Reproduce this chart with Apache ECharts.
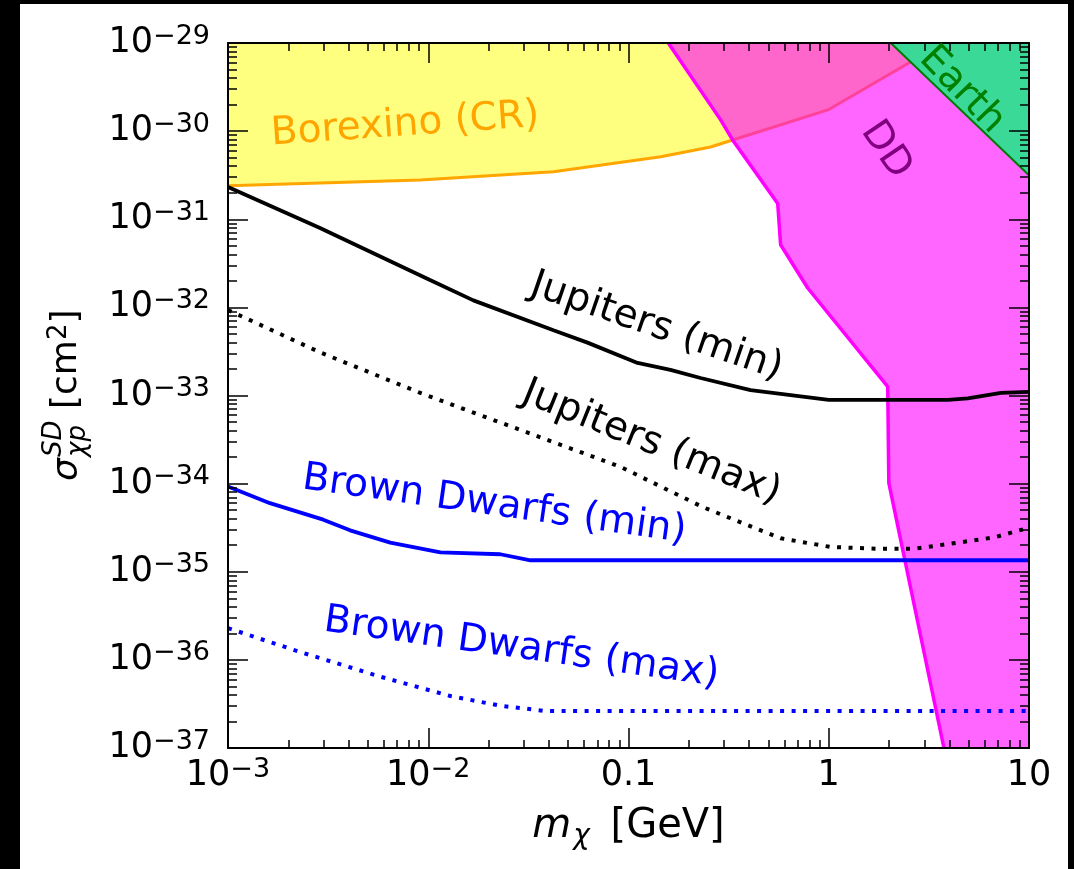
<!DOCTYPE html>
<html><head><meta charset="utf-8">
<script src="https://cdn.jsdelivr.net/npm/echarts@6/dist/echarts.min.js"></script>
<style>
html,body{margin:0;padding:0;background:#000;width:1074px;height:869px;overflow:hidden}
#c{position:absolute;left:20px;top:4px;width:1048px;height:865px;background:#fff}
</style></head><body><div id="c"></div>
<script>
// ---------------- data ----------------
const xTickValues = [0.001, 0.01, 0.1, 1, 10];
const xTickLabels = ['10^−3', '10^−2', '0.1', '1', '10'];
const yTickValues = [1e-37, 1e-36, 1e-35, 1e-34, 1e-33, 1e-32, 1e-31, 1e-30, 1e-29];
const yTickLabels = ['10^−37', '10^−36', '10^−35', '10^−34', '10^−33', '10^−32', '10^−31', '10^−30', '10^−29'];

// Borexino (CR) lower edge of excluded region  [m (GeV), sigma (cm^2)]
const borexino = [[0.001, 2.40e-31], [9.12e-3, 2.79e-31], [4.22e-2, 3.46e-31], [0.145, 5.13e-31],
  [0.257, 6.61e-31], [0.331, 7.94e-31], [0.99, 1.74e-30], [2.51, 5.93e-30], [3.72, 1e-29]];
// Direct detection (DD) boundary
const ddEdge = [[0.158, 1e-29], [0.288, 1.35e-30], [0.331, 7.94e-31], [0.556, 1.51e-31], [0.575, 5.13e-32],
  [0.785, 1.66e-32], [1.97, 1.26e-33], [1.995, 1.02e-34], [3.76, 1e-37]];
const ddCorner = [[10, 1e-37]];
// Earth boundary
const earth = [[2.04, 1e-29], [10, 3.16e-31]];
// Jupiters
const jupMin = [[0.001, 2.32e-31], [2.88e-3, 7.94e-32], [1.02e-2, 2.04e-32], [1.68e-2, 1.20e-32], [4.22e-2, 5.50e-33],
  [6.24e-2, 3.98e-33], [0.111, 2.34e-33], [0.162, 1.95e-33], [0.229, 1.58e-33], [0.407, 1.15e-33],
  [1.0, 8.9e-34], [3.94, 8.9e-34], [4.95, 9.3e-34], [7.24, 1.07e-33], [10, 1.10e-33]];
const jupMax = [[0.001, 9.33e-33], [2.88e-3, 3.09e-33], [9.12e-3, 1.07e-33], [2.88e-2, 4.07e-34], [9.12e-2, 1.55e-34],
  [0.237, 5.37e-35], [0.575, 2.40e-35], [1.02, 1.91e-35], [1.82, 1.82e-35], [2.66, 1.82e-35],
  [4.42, 2.14e-35], [6.68, 2.45e-35], [10, 3.16e-35]];
// Brown dwarfs
const bdMin = [[0.001, 9.3e-35], [1.62e-3, 6.0e-35], [2.99e-3, 3.9e-35], [4.07e-3, 2.95e-35], [6.46e-3, 2.14e-35],
  [1.15e-2, 1.66e-35], [2.29e-2, 1.58e-35], [3.24e-2, 1.35e-35], [10, 1.35e-35]];
const bdMax = [[0.001, 2.29e-36], [2.29e-3, 1.23e-36], [5.75e-3, 6.46e-37], [1.29e-2, 3.89e-37], [2.29e-2, 3.02e-37],
  [3.85e-2, 2.63e-37], [10, 2.63e-37]];

// text annotations anchored in data space
const annotations = [
  {text: 'Borexino (CR)', at: [7.67e-3, 1.17e-30], angle: 4, color: '#ffa500'},
  {text: 'DD', at: [1.93, 6.11e-31], angle: -56, color: '#800080'},
  {text: 'Earth', at: [4.62, 2.93e-30], angle: -46, color: '#008000'},
  {text: 'Jupiters (min)', at: [0.138, 5.98e-33], angle: -19, color: '#000000'},
  {text: 'Jupiters (max)', at: [0.130, 2.89e-34], angle: -22, color: '#000000'},
  {text: 'Brown Dwarfs (min)', at: [2.14e-2, 5.71e-35], angle: -8, color: '#0000ff'},
  {text: 'Brown Dwarfs (max)', at: [2.92e-2, 1.36e-36], angle: -8, color: '#0000ff'}
];

// ---------------- chart ----------------
const FONT = 'DejaVu Sans';
const X_MIN = xTickValues[0], X_MAX = xTickValues[xTickValues.length - 1];
const Y_MIN = yTickValues[0], Y_MAX = yTickValues[yTickValues.length - 1];
const lg = v => Math.round(Math.log10(v) * 1e6) / 1e6;   // exponent (decade) of a value

function minorExps(lo, hi) {
  const out = [];
  for (let e = Math.round(Math.log10(lo)); e < Math.round(Math.log10(hi)); e++)
    for (let k = 2; k <= 9; k++) out.push(Math.round((e + Math.log10(k)) * 1e6) / 1e6);
  return out;
}
function fmt(vals, labels) {
  return function (v) {
    let best = 0, bd = Infinity;
    vals.forEach((t, i) => { const d = Math.abs(lg(t) - v); if (d < bd) { bd = d; best = i; } });
    const p = labels[best].split('^');
    return p.length > 1 ? '{b|' + p[0] + '}{s|' + p[1] + '}' : '{b|' + p[0] + '}';
  };
}
const RICH = {
  b: {fontFamily: FONT, fontSize: 35, color: '#000', lineHeight: 40},
  s: {fontFamily: FONT, fontSize: 27, color: '#000', lineHeight: 20, verticalAlign: 'top'}
};
const TICK = {color: '#000', width: 1.5};
const LINE = {show: true, onZero: false, lineStyle: {color: '#000', width: 2}};
const HIDDEN = {axisLine: {show: false, onZero: false}, axisTick: {show: false}, axisLabel: {show: false},
  splitLine: {show: false}, minorTick: {show: false}, minorSplitLine: {show: false}, axisPointer: {show: false}};

// data axes (log scale) carrying the series
function logAxis(pos, mn, mx) {
  return Object.assign({type: 'log', logBase: 10, gridIndex: 0, position: pos, min: mn, max: mx, silent: true}, HIDDEN);
}
// decoration axes showing ticks/labels on the same decades
function tickAxis(pos, mn, mx, vals, len, line, label, extra) {
  return Object.assign({}, HIDDEN, {
    type: 'value', gridIndex: 0, position: pos, min: lg(mn), max: lg(mx), interval: 1, z: 10, silent: true,
    axisLine: line ? LINE : {show: false, onZero: false},
    axisTick: {show: true, inside: true, length: len, lineStyle: TICK, customValues: vals},
    axisLabel: label || {show: false}
  }, extra || {});
}
const xMajor = xTickValues.map(lg), yMajor = yTickValues.map(lg);
const xMinor = minorExps(X_MIN, X_MAX), yMinor = minorExps(Y_MIN, Y_MAX);

const xAxes = [
  logAxis('bottom', X_MIN, X_MAX),
  tickAxis('bottom', X_MIN, X_MAX, xMajor, 20, true,
    {show: true, margin: 8, customValues: xMajor, formatter: fmt(xTickValues, xTickLabels), rich: RICH},
    {name: '{m|m}{c|χ}{n| [GeV]}', nameLocation: 'middle', nameGap: 55,
     nameTextStyle: {rich: {
       m: {fontFamily: FONT, fontStyle: 'italic', fontSize: 40, color: '#000', lineHeight: 48},
       c: {fontFamily: FONT, fontStyle: 'italic', fontSize: 28, color: '#000', lineHeight: 28, verticalAlign: 'bottom', padding: [0, 8, 0, 2]},
       n: {fontFamily: FONT, fontSize: 40, color: '#000', lineHeight: 48}
     }}}),
  tickAxis('bottom', X_MIN, X_MAX, xMinor, 8, false),
  tickAxis('top', X_MIN, X_MAX, xMajor, 20, true),
  tickAxis('top', X_MIN, X_MAX, xMinor, 8, false)
];
const yAxes = [
  logAxis('left', Y_MIN, Y_MAX),
  tickAxis('left', Y_MIN, Y_MAX, yMajor, 20, true,
    {show: true, margin: 18, customValues: yMajor, formatter: fmt(yTickValues, yTickLabels), rich: RICH}),
  tickAxis('left', Y_MIN, Y_MAX, yMinor, 9, false),
  tickAxis('right', Y_MIN, Y_MAX, yMajor, 20, true),
  tickAxis('right', Y_MIN, Y_MAX, yMinor, 9, false)
];

function ser(name, data, z, extra) {
  return Object.assign({
    name: name, type: 'line', data: data, xAxisIndex: 0, yAxisIndex: 0, z: z,
    showSymbol: false, symbol: 'none', silent: true, animation: false, clip: true, smooth: false
  }, extra);
}

const series = [
  ser('Borexino (CR)', borexino, 1, {lineStyle: {color: '#ffa500', width: 3},
    areaStyle: {color: 'rgba(255,255,0,0.5)', origin: Y_MAX, opacity: 1}}),
  ser('DD fill', ddEdge.concat(ddCorner), 2, {lineStyle: {width: 0, opacity: 0},
    areaStyle: {color: 'rgba(255,0,255,0.6)', origin: Y_MAX, opacity: 1}}),
  ser('DD', ddEdge, 3, {lineStyle: {color: '#ff00ff', width: 3.5}}),
  ser('Earth', earth, 4, {lineStyle: {color: '#007a00', width: 2},
    areaStyle: {color: '#3ad998', origin: Y_MAX, opacity: 1}}),
  ser('Jupiters (max)', jupMax, 5, {lineStyle: {color: '#000', width: 4, type: [4, 7.5], cap: 'butt'}}),
  ser('Jupiters (min)', jupMin, 5, {lineStyle: {color: '#000', width: 3.8}}),
  ser('Brown Dwarfs (min)', bdMin, 5, {lineStyle: {color: '#0000ff', width: 3.8}}),
  ser('Brown Dwarfs (max)', bdMax, 5, {lineStyle: {color: '#0000ff', width: 4, type: [4, 7.5], cap: 'butt'}})
];

const chart = echarts.init(document.getElementById('c'), null, {renderer: 'canvas'});
chart.setOption({
  backgroundColor: '#ffffff',
  animation: false,
  grid: {left: 208, top: 39, right: 39, bottom: 121, containLabel: false},
  xAxis: xAxes,
  yAxis: yAxes,
  series: series
});

// annotations + y axis title
const graphics = annotations.map(function (a) {
  const p = chart.convertToPixel({xAxisIndex: 0, yAxisIndex: 0}, a.at);
  return {type: 'text', x: p[0], y: p[1], rotation: a.angle * Math.PI / 180, z: 20, silent: true,
    style: {text: a.text, fill: a.color, font: '39px "' + FONT + '"', align: 'center', verticalAlign: 'middle'}};
});
const F = 36, S = 26;
graphics.push({
  type: 'group', x: 58, y: 477, rotation: Math.PI / 2, silent: true, z: 20,
  children: [
    {type: 'text', x: 0, y: -0.3 * F, style: {text: 'σ', fill: '#000', font: 'italic ' + F + 'px "' + FONT + '"', align: 'left', verticalAlign: 'middle'}},
    {type: 'text', x: 24, y: -16 - 0.3 * S, style: {text: 'SD', fill: '#000', font: 'italic ' + S + 'px "' + FONT + '"', align: 'left', verticalAlign: 'middle'}},
    {type: 'text', x: 24, y: 8 - 0.3 * S, style: {text: 'χp', fill: '#000', font: 'italic ' + S + 'px "' + FONT + '"', align: 'left', verticalAlign: 'middle'}},
    {type: 'text', x: 72, y: -32, style: {text: '{n|[cm}{s|2}{n|]}', align: 'left', verticalAlign: 'top',
      rich: {
        n: {fontFamily: FONT, fontSize: F, fill: '#000', lineHeight: 42},
        s: {fontFamily: FONT, fontSize: S, fill: '#000', lineHeight: 22, verticalAlign: 'top'}
      }}}
  ]
});
chart.setOption({graphic: graphics});
</script>
</body></html>
